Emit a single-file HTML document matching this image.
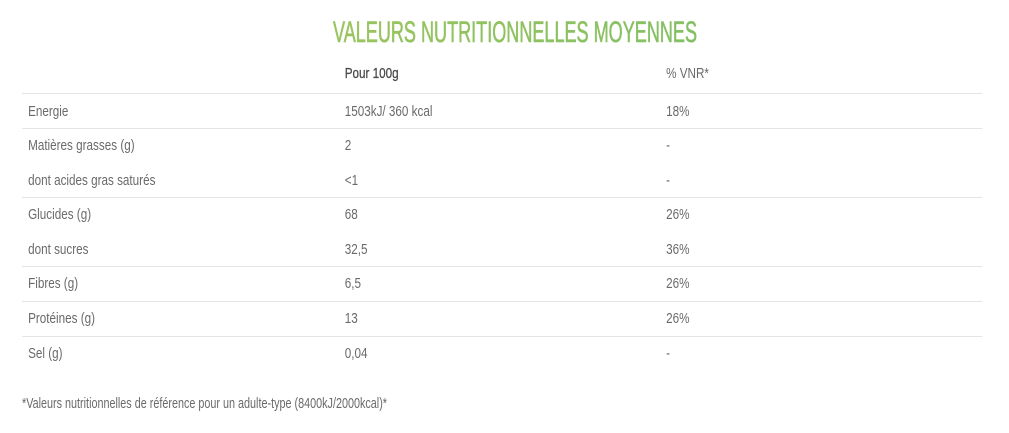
<!DOCTYPE html>
<html><head><meta charset="utf-8"><style>
html,body{margin:0;padding:0;background:#fff;}
svg{display:block;}
text{font-family:"Liberation Sans",sans-serif;}
</style></head><body>
<svg width="1009" height="433" viewBox="0 0 1009 433" xmlns="http://www.w3.org/2000/svg">
<defs><linearGradient id="g" x1="0" x2="1"><stop offset="0" stop-color="#9ec55a"/><stop offset="1" stop-color="#7fbf6a"/></linearGradient></defs>
<text x="333" y="42" font-size="30" fill="url(#g)" stroke="#8fc25e" stroke-width="0.6" textLength="364" lengthAdjust="spacingAndGlyphs">VALEURS NUTRITIONNELLES MOYENNES</text>
<g stroke="#e4e4e4" stroke-width="1">
<line x1="22" x2="982" y1="93.5" y2="93.5"/>
<line x1="22" x2="982" y1="128.5" y2="128.5"/>
<line x1="22" x2="982" y1="197.5" y2="197.5"/>
<line x1="22" x2="982" y1="266.5" y2="266.5"/>
<line x1="22" x2="982" y1="301.5" y2="301.5"/>
<line x1="22" x2="982" y1="336.5" y2="336.5"/>
</g>
<g font-size="15" fill="#6a6a6a" transform="scale(0.78,1)">
<text x="442" y="78" fill="#4a4a4a" stroke="#4a4a4a" stroke-width="0.3">Pour 100g</text>
<text x="854" y="78">% VNR*</text>
<text x="36" y="116">Energie</text><text x="442" y="116">1503kJ/ 360 kcal</text><text x="854" y="116">18%</text>
<text x="36" y="150">Matières grasses (g)</text><text x="442" y="150">2</text><text x="854" y="150">-</text>
<text x="36" y="185">dont acides gras saturés</text><text x="442" y="185">&lt;1</text><text x="854" y="185">-</text>
<text x="36" y="219">Glucides (g)</text><text x="442" y="219">68</text><text x="854" y="219">26%</text>
<text x="36" y="254">dont sucres</text><text x="442" y="254">32,5</text><text x="854" y="254">36%</text>
<text x="36" y="288">Fibres (g)</text><text x="442" y="288">6,5</text><text x="854" y="288">26%</text>
<text x="36" y="323">Protéines (g)</text><text x="442" y="323">13</text><text x="854" y="323">26%</text>
<text x="36" y="358">Sel (g)</text><text x="442" y="358">0,04</text><text x="854" y="358">-</text>
</g>
<text x="22" y="408" font-size="15" fill="#6a6a6a" textLength="365" lengthAdjust="spacingAndGlyphs">*Valeurs nutritionnelles de référence pour un adulte-type (8400kJ/2000kcal)*</text>
</svg>
</body></html>
